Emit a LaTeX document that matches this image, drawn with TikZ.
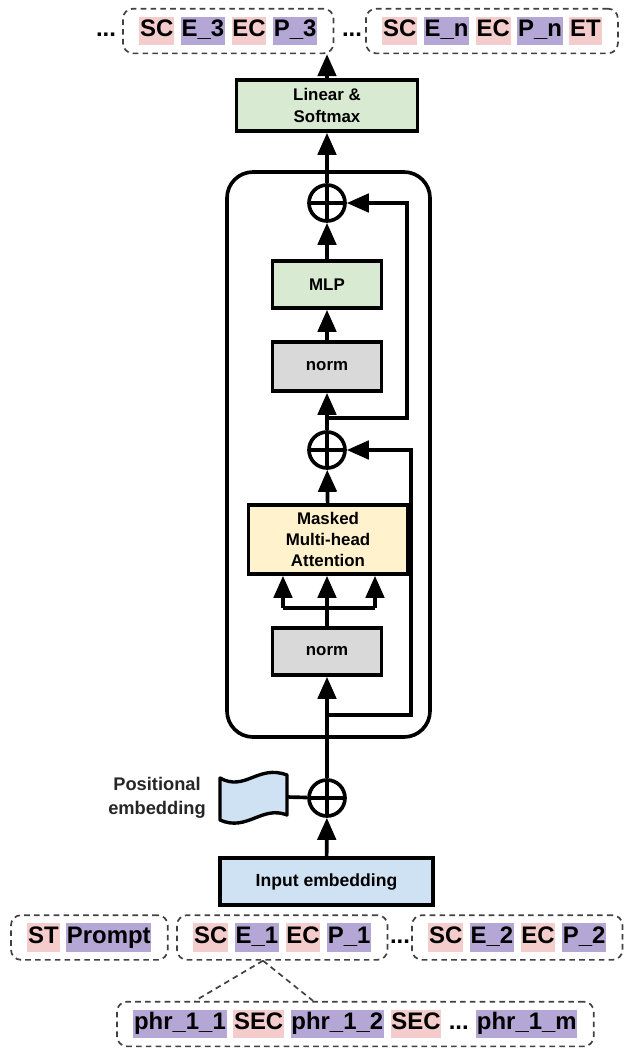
\documentclass[tikz,border=0pt]{standalone}
\usepackage{fontspec}
\setmainfont{Liberation Sans}
\usetikzlibrary{arrows.meta}
\usetikzlibrary{positioning}
\usetikzlibrary{fit}

\definecolor{mlpgreen}{HTML}{D9EAD3}
\definecolor{normgray}{HTML}{D9D9D9}
\definecolor{attnyellow}{HTML}{FFF2CC}
\definecolor{embblue}{HTML}{CFE2F3}
\definecolor{tokpink}{HTML}{F4CCCC}
\definecolor{tokpurple}{HTML}{B4A7D6}

\begin{document}
\begin{tikzpicture}[
                x=0.025cm, y=-0.025cm, node distance=0.15cm,
                block/.style={draw=black, line width=2.6pt, align=center, inner sep=0pt,
                        font=\bfseries\fontsize{12}{15}\selectfont},
                adder/.style={circle, draw=black, line width=2.6pt, minimum size=0.9cm, inner sep=0pt,
                        path picture={\draw[line width=2.6pt]
                                (path picture bounding box.north) -- (path picture bounding box.south)
                                (path picture bounding box.west) -- (path picture bounding box.east);}},
                wire/.style={line width=2.6pt},
                arr/.style={line width=2.6pt, -{Triangle[length=0.55cm, width=0.46cm]}},
                tok/.style={font=\bfseries\fontsize{17}{20}\selectfont, inner xsep=0.6pt, inner ysep=1.5pt,
                        text height=12.5pt, text depth=4.5pt},
                pinktok/.style={tok, fill=tokpink},
                purptok/.style={tok, fill=tokpurple},
                group/.style={draw=black!75, line width=1.2pt, dash pattern=on 4pt off 3pt,
                        rounded corners=0.25cm, inner xsep=0.4cm, inner ysep=0.2cm},
                split/.style={draw=black!75, line width=1.2pt, dash pattern=on 4pt off 3pt} ]

            \useasboundingbox (0,0) rectangle (624,1048);

            \node[pinktok, anchor=west] (sc3) at (139,31) {SC};
            \node[purptok, right=of sc3] (e3) {E\_3};
            \node[pinktok, right=of e3] (ec3) {EC};
            \node[purptok, right=of ec3] (p3) {P\_3};
            \node[group, fit=(sc3)(p3)] (out3) {};
            \node[tok] (dotsA) at (106,31) {...};

            \node[pinktok, anchor=west] (scn) at (382,31) {SC};
            \node[purptok, right=of scn] (en) {E\_n};
            \node[pinktok, right=of en] (ecn) {EC};
            \node[purptok, right=of ecn] (pn) {P\_n};
            \node[pinktok, right=of pn] (et) {ET};
            \node[group, fit=(scn)(et)] (outn) {};
            \node[tok] (dotsB) at (352,31) {...};

            \node[block, fill=mlpgreen, minimum width=4.525cm, minimum height=1.275cm] (linear) at (327,105.5) {Linear \&\\Softmax};

            \draw[wire, rounded corners=0.65cm] (227,172) rectangle (430,737);

            \node[adder] (add2) at (327,203) {};
            \node[block, fill=mlpgreen, minimum width=2.725cm, minimum height=1.175cm] (mlp) at (327,284.5) {MLP};
            \node[block, fill=normgray, minimum width=2.725cm, minimum height=1.225cm] (norm1) at (327,366.5) {norm};
            \node[adder] (add1) at (327,450) {};
            \node[block, fill=attnyellow, minimum width=3.975cm, minimum height=1.725cm] (attn) at (328,539.5) {Masked\\Multi-head\\Attention};
            \node[block, fill=normgray, minimum width=2.725cm, minimum height=1.175cm] (norm2) at (327,651.5) {norm};
            \node[adder] (addpos) at (327,798) {};
            \node[block, fill=embblue, minimum width=5.325cm, minimum height=1.175cm,
                font=\bfseries\fontsize{12.5}{15}\selectfont] (input) at (326.5,881.5) {Input embedding};

            \filldraw[fill=embblue, draw=black, line width=2.4pt, line join=round]
            (220,778) .. controls (245,792) and (258,764) .. (287,775) -- (287,815)
            .. controls (262,805) and (247,832) .. (220,820) -- cycle;
            \coordinate (flagE) at (287,797);
            \node[align=center, text=black!85, font=\bfseries\fontsize{13}{17}\selectfont] (poslabel) at (157,798) {Positional\\embedding};

            \coordinate (skipA) at (327,715);
            \coordinate (skipAr) at (411,715);
            \coordinate (skipB) at (327,418);
            \coordinate (skipBr) at (407,418);
            \coordinate (fork1) at (283,608);
            \coordinate (fork2) at (327,608);
            \coordinate (fork3) at (375,608);

            \draw[arr] (input) -- (addpos);
            \draw[wire] (flagE) -- (addpos);
            \draw[arr] (addpos) -- (norm2);
            \draw[wire] (norm2) -- (fork2);
            \draw[wire] (fork1) -- (fork3);
            \foreach \f in {fork1, fork2, fork3} {
                    \draw[arr] (\f) -- (\f |- attn.south);
                }
            \draw[arr] (attn) -- (add1);
            \draw[arr] (skipA) -- (skipAr) |- (add1);
            \draw[arr] (add1) -- (norm1);
            \draw[arr] (norm1) -- (mlp);
            \draw[arr] (mlp) -- (add2);
            \draw[arr] (skipB) -- (skipBr) |- (add2);
            \draw[arr] (add2) -- (linear);
            \draw[arr] (linear) -- (linear.north |- out3.south);

            \node[pinktok, anchor=west] (st) at (27,937.5) {ST};
            \node[purptok, right=of st] (prompt) {Prompt};
            \node[group, fit=(st)(prompt)] (pre) {};

            \node[pinktok, anchor=west] (sc1) at (193,937.5) {SC};
            \node[purptok, right=of sc1] (e1) {E\_1};
            \node[pinktok, right=of e1] (ec1) {EC};
            \node[purptok, right=of ec1] (p1) {P\_1};
            \node[group, fit=(sc1)(p1)] (seg1) {};
            \node[tok] (dotsC) at (400,937.5) {...};

            \node[pinktok, anchor=west] (sc2) at (428,937.5) {SC};
            \node[purptok, right=of sc2] (e2) {E\_2};
            \node[pinktok, right=of e2] (ec2) {EC};
            \node[purptok, right=of ec2] (p2) {P\_2};
            \node[group, fit=(sc2)(p2)] (seg2) {};

            \node[purptok, anchor=west] (phrA) at (133,1024) {phr\_1\_1};
            \node[pinktok, right=of phrA] (secA) {SEC};
            \node[purptok, right=of secA] (phrB) {phr\_1\_2};
            \node[pinktok, right=of phrB] (secB) {SEC};
            \node[tok, right=of secB] (dotsD) {...};
            \node[purptok, right=of dotsD] (phrM) {phr\_1\_m};
            \node[group, fit=(phrA)(phrM)] (phr) {};

            \coordinate (splitO) at (263,0);
            \coordinate (phrL) at (195,0);
            \coordinate (phrR) at (313,0);
            \draw[split] (splitO |- seg1.south) -- (phrL |- phr.north);
            \draw[split] (splitO |- seg1.south) -- (phrR |- phr.north);

        \end{tikzpicture}
\end{document}
